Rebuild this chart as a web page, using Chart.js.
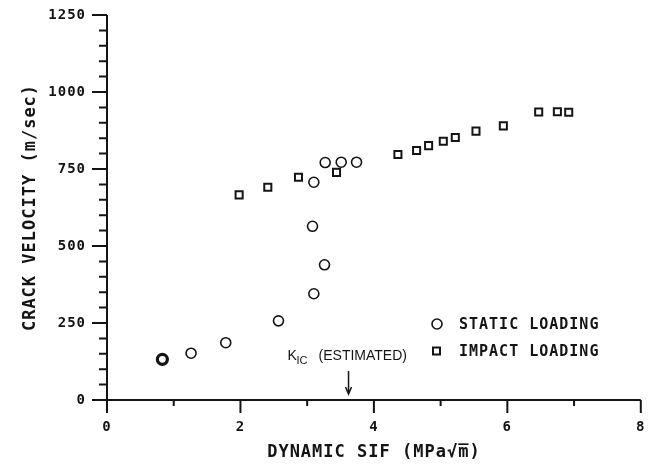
<!DOCTYPE html>
<html>
<head>
  <title>Crack Velocity vs Dynamic SIF</title>
  <script src="https://cdn.jsdelivr.net/npm/chart.js"></script>
  <style>
    body { margin: 0; background: #fff; }
    #wrap { width: 650px; height: 467px; position: relative; }
  </style>
</head>
<body>
<div id="wrap"><canvas id="sifChart"></canvas></div>
<script>
// values
var staticSif = [0.83, 1.26, 1.78, 2.57, 3.10, 3.26, 3.08, 3.10, 3.27, 3.51, 3.74];
var staticVel = [132, 152, 186, 257, 345, 439, 564, 707, 771, 772, 772];
var impactSif = [1.98, 2.41, 2.87, 3.44, 4.36, 4.64, 4.82, 5.04, 5.22, 5.53, 5.94, 6.47, 6.75, 6.92];
var impactVel = [666, 691, 723, 739, 797, 810, 826, 840, 852, 873, 890, 935, 936, 934];
var xLabels = [0, 2, 4, 6, 8];
var yLabels = [0, 250, 500, 750, 1000, 1250];
var kicEstimate = 3.62;

var ink = '#141414';
var mono = 'DejaVu Sans Mono';

function toPoints(xs, ys) {
  var pts = [];
  for (var i = 0; i < xs.length; i++) pts.push({ x: xs[i], y: ys[i] });
  return pts;
}

// axes, tick marks, legend and the K_IC note are drawn like the old plotter figure
var plotterAxes = {
  id: 'plotterAxes',
  beforeDraw: function(chart) {
    chart.ctx.letterSpacing = '1px';
  },
  afterDraw: function(chart) {
    var ctx = chart.ctx;
    var xs = chart.scales.x, ys = chart.scales.y;
    var x0 = xs.getPixelForValue(0), xEnd = xs.getPixelForValue(8);
    var y0 = ys.getPixelForValue(0), yTop = ys.getPixelForValue(1250);

    ctx.save();
    ctx.strokeStyle = ink;
    ctx.lineWidth = 2;
    ctx.beginPath();
    ctx.moveTo(x0, yTop); ctx.lineTo(x0, y0 + 13);
    ctx.moveTo(x0 - 15, y0); ctx.lineTo(xEnd, y0);
    for (var v = 50; v <= 1250; v += 50) {
      var py = ys.getPixelForValue(v);
      var len = yLabels.indexOf(v) >= 0 ? 15 : 8;
      ctx.moveTo(x0 - len, py); ctx.lineTo(x0, py);
    }
    for (var k = 1; k <= 8; k++) {
      var px = xs.getPixelForValue(k);
      var len2 = xLabels.indexOf(k) >= 0 ? 13 : 6;
      ctx.moveTo(px, y0); ctx.lineTo(px, y0 + len2);
    }
    ctx.stroke();

    // legend
    var lx = 437, ly = 324;
    ctx.lineWidth = 1.6;
    ctx.beginPath();
    ctx.arc(lx, ly, 5, 0, Math.PI * 2);
    ctx.stroke();
    ctx.lineWidth = 2;
    ctx.strokeRect(lx - 4, ly + 27 - 3.5, 7, 7);
    ctx.fillStyle = ink;
    ctx.font = 'bold 15px "' + mono + '"';
    ctx.textBaseline = 'middle';
    ctx.textAlign = 'left';
    ctx.fillText('STATIC LOADING', 459, ly + 1);
    ctx.fillText('IMPACT LOADING', 459, ly + 28);

    // K_IC estimate marker
    var ax = xs.getPixelForValue(kicEstimate);
    ctx.lineWidth = 1.5;
    ctx.beginPath();
    ctx.moveTo(ax, y0 - 29); ctx.lineTo(ax, y0 - 6);
    ctx.moveTo(ax - 3, y0 - 13); ctx.lineTo(ax, y0 - 6); ctx.lineTo(ax + 3, y0 - 13);
    ctx.stroke();
    ctx.letterSpacing = '0px';
    ctx.textBaseline = 'alphabetic';
    ctx.font = '14px "Liberation Sans"';
    ctx.fillText('K', ax - 61, y0 - 40);
    ctx.font = '11px "Liberation Sans"';
    ctx.fillText('IC', ax - 52, y0 - 36);
    ctx.font = '14px "Liberation Sans"';
    ctx.fillText('(ESTIMATED)', ax - 30, y0 - 40);
    ctx.restore();
  }
};

var ctx = document.getElementById('sifChart').getContext('2d');
var sifChart = new Chart(ctx, {
  type: 'scatter',
  data: {
    datasets: [{
      label: 'STATIC LOADING',
      data: toPoints(staticSif, staticVel),
      pointStyle: 'circle',
      pointRadius: 5,
      borderColor: ink,
      backgroundColor: 'rgba(0,0,0,0)',
      borderWidth: function(c) { return c.dataIndex === 0 ? 3.2 : 1.6; }
    }, {
      label: 'IMPACT LOADING',
      data: toPoints(impactSif, impactVel),
      pointStyle: 'rect',
      pointRadius: 5,
      borderColor: ink,
      backgroundColor: 'rgba(0,0,0,0)',
      borderWidth: 2
    }]
  },
  options: {
    responsive: true,
    maintainAspectRatio: false,
    animation: false,
    layout: { padding: { top: 15, right: 8, left: 0, bottom: 0 } },
    plugins: {
      legend: { display: false },
      tooltip: { enabled: false }
    },
    scales: {
      x: {
        type: 'linear',
        min: 0,
        max: 8,
        border: { display: false },
        grid: { display: false, drawTicks: true, tickLength: 14 },
        ticks: {
          stepSize: 1,
          autoSkip: false,
          maxRotation: 0,
          padding: 5,
          color: ink,
          font: { family: mono, size: 14, weight: 'bold' },
          callback: function(v) { return xLabels.indexOf(v) >= 0 ? String(v) : ''; }
        },
        title: {
          display: true,
          text: 'DYNAMIC SIF (MPa\u221Am\u0305)',
          color: ink,
          font: { family: mono, size: 17, weight: 'bold' },
          padding: { top: 0, bottom: 4 }
        },
        afterFit: function(scale) { scale.height = 67; }
      },
      y: {
        type: 'linear',
        min: 0,
        max: 1250,
        border: { display: false },
        grid: { display: false, drawTicks: true, tickLength: 16 },
        ticks: {
          stepSize: 50,
          autoSkip: false,
          padding: 5,
          color: ink,
          font: { family: mono, size: 14, weight: 'bold' },
          callback: function(v) { return yLabels.indexOf(v) >= 0 ? String(v) : ''; }
        },
        title: {
          display: true,
          text: 'CRACK VELOCITY (m/sec)',
          color: ink,
          font: { family: mono, size: 17, weight: 'bold' },
          padding: { top: 20, bottom: 0 }
        },
        afterFit: function(scale) { scale.width = 107; }
      }
    }
  },
  plugins: [plotterAxes]
});
</script>
</body>
</html>
